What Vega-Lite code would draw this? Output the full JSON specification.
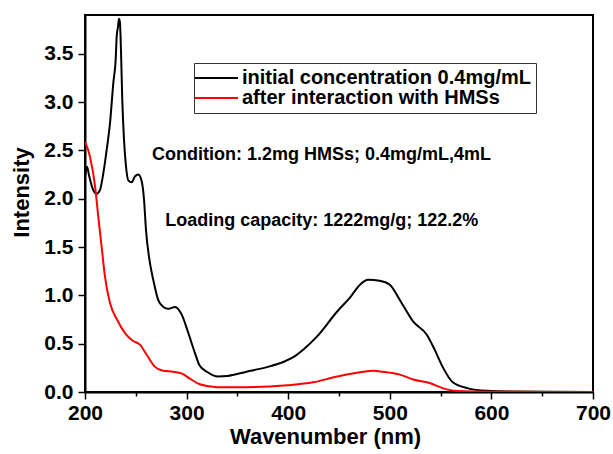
{
  "$schema": "https://vega.github.io/schema/vega-lite/v6.json",
  "width": 508,
  "height": 377,
  "autosize": {"type": "none"},
  "padding": {"left": 85, "top": 15, "right": 20, "bottom": 62},
  "background": "white",
  "config": {
    "view": {"stroke": "black", "strokeWidth": 2},
    "axis": {
      "grid": false,
      "domainColor": "black",
      "domainWidth": 2,
      "tickColor": "black",
      "tickWidth": 1.5,
      "labelFont": "Liberation Sans",
      "labelFontWeight": "bold",
      "labelFontSize": 21,
      "labelColor": "black",
      "labelOverlap": false,
      "labelFlush": false,
      "titleFont": "Liberation Sans",
      "titleFontWeight": "bold",
      "titleFontSize": 22,
      "titleColor": "black"
    }
  },
  "datasets": {
    "spectra": [
      {"series": "initial concentration 0.4mg/mL", "nm": 200, "intensity": 2.22},
      {"series": "initial concentration 0.4mg/mL", "nm": 202, "intensity": 2.33},
      {"series": "initial concentration 0.4mg/mL", "nm": 204, "intensity": 2.24},
      {"series": "initial concentration 0.4mg/mL", "nm": 207, "intensity": 2.12},
      {"series": "initial concentration 0.4mg/mL", "nm": 211.5, "intensity": 2.05},
      {"series": "initial concentration 0.4mg/mL", "nm": 214.8, "intensity": 2.09},
      {"series": "initial concentration 0.4mg/mL", "nm": 218, "intensity": 2.26},
      {"series": "initial concentration 0.4mg/mL", "nm": 221.4, "intensity": 2.51},
      {"series": "initial concentration 0.4mg/mL", "nm": 224.6, "intensity": 2.78},
      {"series": "initial concentration 0.4mg/mL", "nm": 227.9, "intensity": 3.2},
      {"series": "initial concentration 0.4mg/mL", "nm": 230.2, "intensity": 3.44},
      {"series": "initial concentration 0.4mg/mL", "nm": 231.2, "intensity": 3.68},
      {"series": "initial concentration 0.4mg/mL", "nm": 232.5, "intensity": 3.78},
      {"series": "initial concentration 0.4mg/mL", "nm": 233.5, "intensity": 3.86},
      {"series": "initial concentration 0.4mg/mL", "nm": 234.4, "intensity": 3.82},
      {"series": "initial concentration 0.4mg/mL", "nm": 235.4, "intensity": 3.54},
      {"series": "initial concentration 0.4mg/mL", "nm": 236.7, "intensity": 3.02},
      {"series": "initial concentration 0.4mg/mL", "nm": 238.4, "intensity": 2.61},
      {"series": "initial concentration 0.4mg/mL", "nm": 240.4, "intensity": 2.33},
      {"series": "initial concentration 0.4mg/mL", "nm": 242.6, "intensity": 2.19},
      {"series": "initial concentration 0.4mg/mL", "nm": 246, "intensity": 2.17},
      {"series": "initial concentration 0.4mg/mL", "nm": 249.2, "intensity": 2.23},
      {"series": "initial concentration 0.4mg/mL", "nm": 252.5, "intensity": 2.25},
      {"series": "initial concentration 0.4mg/mL", "nm": 255.8, "intensity": 2.18},
      {"series": "initial concentration 0.4mg/mL", "nm": 258.1, "intensity": 1.99},
      {"series": "initial concentration 0.4mg/mL", "nm": 260, "intensity": 1.68},
      {"series": "initial concentration 0.4mg/mL", "nm": 264, "intensity": 1.33},
      {"series": "initial concentration 0.4mg/mL", "nm": 267.2, "intensity": 1.16},
      {"series": "initial concentration 0.4mg/mL", "nm": 272.1, "intensity": 0.95},
      {"series": "initial concentration 0.4mg/mL", "nm": 277.1, "intensity": 0.88},
      {"series": "initial concentration 0.4mg/mL", "nm": 282, "intensity": 0.86},
      {"series": "initial concentration 0.4mg/mL", "nm": 288.6, "intensity": 0.88},
      {"series": "initial concentration 0.4mg/mL", "nm": 295.2, "intensity": 0.8},
      {"series": "initial concentration 0.4mg/mL", "nm": 301.7, "intensity": 0.61},
      {"series": "initial concentration 0.4mg/mL", "nm": 308.3, "intensity": 0.4},
      {"series": "initial concentration 0.4mg/mL", "nm": 312.5, "intensity": 0.28},
      {"series": "initial concentration 0.4mg/mL", "nm": 320, "intensity": 0.21},
      {"series": "initial concentration 0.4mg/mL", "nm": 331, "intensity": 0.16},
      {"series": "initial concentration 0.4mg/mL", "nm": 340, "intensity": 0.165},
      {"series": "initial concentration 0.4mg/mL", "nm": 359, "intensity": 0.21},
      {"series": "initial concentration 0.4mg/mL", "nm": 380, "intensity": 0.26},
      {"series": "initial concentration 0.4mg/mL", "nm": 395, "intensity": 0.31},
      {"series": "initial concentration 0.4mg/mL", "nm": 405, "intensity": 0.36},
      {"series": "initial concentration 0.4mg/mL", "nm": 415, "intensity": 0.44},
      {"series": "initial concentration 0.4mg/mL", "nm": 428, "intensity": 0.57},
      {"series": "initial concentration 0.4mg/mL", "nm": 448, "intensity": 0.83},
      {"series": "initial concentration 0.4mg/mL", "nm": 461, "intensity": 0.98},
      {"series": "initial concentration 0.4mg/mL", "nm": 470.7, "intensity": 1.11},
      {"series": "initial concentration 0.4mg/mL", "nm": 478.6, "intensity": 1.16},
      {"series": "initial concentration 0.4mg/mL", "nm": 490, "intensity": 1.15},
      {"series": "initial concentration 0.4mg/mL", "nm": 500, "intensity": 1.11},
      {"series": "initial concentration 0.4mg/mL", "nm": 510, "intensity": 0.95},
      {"series": "initial concentration 0.4mg/mL", "nm": 522.9, "intensity": 0.73},
      {"series": "initial concentration 0.4mg/mL", "nm": 536.6, "intensity": 0.59},
      {"series": "initial concentration 0.4mg/mL", "nm": 544.5, "intensity": 0.43},
      {"series": "initial concentration 0.4mg/mL", "nm": 552, "intensity": 0.26},
      {"series": "initial concentration 0.4mg/mL", "nm": 562, "intensity": 0.1},
      {"series": "initial concentration 0.4mg/mL", "nm": 576, "intensity": 0.04},
      {"series": "initial concentration 0.4mg/mL", "nm": 596, "intensity": 0.012},
      {"series": "initial concentration 0.4mg/mL", "nm": 620, "intensity": 0.005},
      {"series": "initial concentration 0.4mg/mL", "nm": 700, "intensity": 0.0},
      {"series": "after interaction with HMSs", "nm": 200, "intensity": 2.59},
      {"series": "after interaction with HMSs", "nm": 205, "intensity": 2.43},
      {"series": "after interaction with HMSs", "nm": 210, "intensity": 2.12},
      {"series": "after interaction with HMSs", "nm": 213, "intensity": 1.82},
      {"series": "after interaction with HMSs", "nm": 216.7, "intensity": 1.47},
      {"series": "after interaction with HMSs", "nm": 219.7, "intensity": 1.19},
      {"series": "after interaction with HMSs", "nm": 224.6, "intensity": 0.92},
      {"series": "after interaction with HMSs", "nm": 231.5, "intensity": 0.75},
      {"series": "after interaction with HMSs", "nm": 239.4, "intensity": 0.61},
      {"series": "after interaction with HMSs", "nm": 247, "intensity": 0.53},
      {"series": "after interaction with HMSs", "nm": 254, "intensity": 0.49},
      {"series": "after interaction with HMSs", "nm": 261, "intensity": 0.38},
      {"series": "after interaction with HMSs", "nm": 268.9, "intensity": 0.26},
      {"series": "after interaction with HMSs", "nm": 276.8, "intensity": 0.22},
      {"series": "after interaction with HMSs", "nm": 286.6, "intensity": 0.21},
      {"series": "after interaction with HMSs", "nm": 295.5, "intensity": 0.19},
      {"series": "after interaction with HMSs", "nm": 303, "intensity": 0.14},
      {"series": "after interaction with HMSs", "nm": 313, "intensity": 0.08},
      {"series": "after interaction with HMSs", "nm": 330, "intensity": 0.05},
      {"series": "after interaction with HMSs", "nm": 359, "intensity": 0.05},
      {"series": "after interaction with HMSs", "nm": 399, "intensity": 0.07},
      {"series": "after interaction with HMSs", "nm": 424.6, "intensity": 0.1},
      {"series": "after interaction with HMSs", "nm": 448, "intensity": 0.16},
      {"series": "after interaction with HMSs", "nm": 473.7, "intensity": 0.21},
      {"series": "after interaction with HMSs", "nm": 483.5, "intensity": 0.22},
      {"series": "after interaction with HMSs", "nm": 493, "intensity": 0.21},
      {"series": "after interaction with HMSs", "nm": 510, "intensity": 0.18},
      {"series": "after interaction with HMSs", "nm": 523, "intensity": 0.13},
      {"series": "after interaction with HMSs", "nm": 540, "intensity": 0.09},
      {"series": "after interaction with HMSs", "nm": 552, "intensity": 0.04},
      {"series": "after interaction with HMSs", "nm": 566, "intensity": 0.01},
      {"series": "after interaction with HMSs", "nm": 600, "intensity": 0.002},
      {"series": "after interaction with HMSs", "nm": 700, "intensity": 0.0}
    ]
  },
  "layer": [
    {
      "data": {"name": "spectra"},
      "mark": {"type": "line", "strokeWidth": 2, "interpolate": "monotone", "clip": true},
      "encoding": {
        "x": {
          "field": "nm",
          "type": "quantitative",
          "scale": {"domain": [200, 700], "nice": false, "zero": false},
          "axis": {
            "title": "Wavenumber (nm)",
            "values": [200, 250, 300, 350, 400, 450, 500, 550, 600, 650, 700],
            "labelExpr": "datum.value % 100 === 0 ? datum.label : ''",
            "tickSize": {"condition": {"test": "datum.value % 100 !== 0", "value": 4}, "value": 7},
            "labelPadding": 3,
            "titlePadding": 3,
            "titleX": 240
          }
        },
        "y": {
          "field": "intensity",
          "type": "quantitative",
          "scale": {"domain": [0, 3.9], "nice": false, "zero": true},
          "axis": {
            "title": "Intensity",
            "values": [0, 0.25, 0.5, 0.75, 1, 1.25, 1.5, 1.75, 2, 2.25, 2.5, 2.75, 3, 3.25, 3.5, 3.75],
            "labelExpr": "datum.value % 0.5 === 0 ? format(datum.value, '.1f') : ''",
            "tickSize": {"condition": {"test": "datum.value % 0.5 !== 0", "value": 4}, "value": 7},
            "labelPadding": 5,
            "titlePadding": 10,
            "titleY": 177
          }
        },
        "color": {
          "field": "series",
          "type": "nominal",
          "sort": ["initial concentration 0.4mg/mL", "after interaction with HMSs"],
          "scale": {"domain": ["initial concentration 0.4mg/mL", "after interaction with HMSs"], "range": ["black", "#ff0000"]},
          "legend": {
            "orient": "none",
            "legendX": 109,
            "legendY": 48,
            "title": null,
            "strokeColor": "#333333",
            "fillColor": "white",
            "padding": 5,
            "symbolType": "M-2.8,0H5.8",
            "symbolStrokeWidth": 2,
            "symbolSize": 100,
            "labelFont": "Liberation Sans",
            "labelFontWeight": "bold",
            "labelFontSize": 20,
            "labelColor": "black",
            "labelLimit": 500,
            "labelOffset": 23,
            "rowPadding": -2
          }
        }
      }
    },
    {
      "data": {"values": [{}]},
      "mark": {"type": "text", "align": "left", "baseline": "middle", "font": "Liberation Sans", "fontWeight": "bold", "fontSize": 18, "color": "black"},
      "encoding": {
        "x": {"datum": 266, "type": "quantitative"},
        "y": {"datum": 2.45, "type": "quantitative"},
        "text": {"value": "Condition: 1.2mg HMSs; 0.4mg/mL,4mL"}
      }
    },
    {
      "data": {"values": [{}]},
      "mark": {"type": "text", "align": "left", "baseline": "middle", "font": "Liberation Sans", "fontWeight": "bold", "fontSize": 18, "color": "black"},
      "encoding": {
        "x": {"datum": 279, "type": "quantitative"},
        "y": {"datum": 1.77, "type": "quantitative"},
        "text": {"value": "Loading capacity: 1222mg/g; 122.2%"}
      }
    }
  ]
}
